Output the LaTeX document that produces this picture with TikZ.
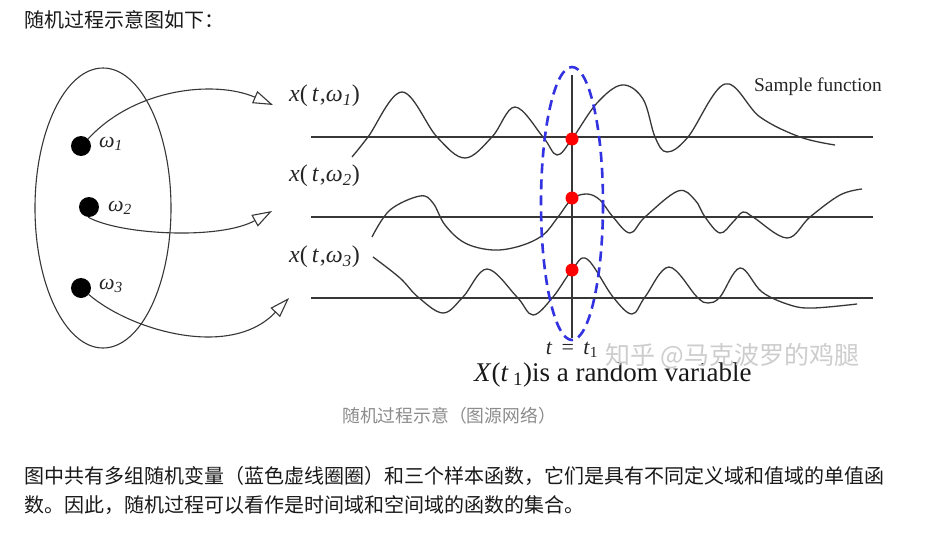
\documentclass[tikz,border=0pt]{standalone}
\usepackage{fontspec}
\setmainfont{Liberation Serif}
\newfontfamily\cjk{Noto Sans CJK SC}
\usetikzlibrary{arrows.meta}
\definecolor{inkgray}{RGB}{55,55,55}
\definecolor{dashblue}{RGB}{50,50,225}
\definecolor{capgray}{RGB}{140,140,140}
\definecolor{markgray}{RGB}{205,205,205}
\tikzset{
  axisline/.style={draw=inkgray, line width=1.4pt},
  wave/.style={draw=inkgray, line width=1.3pt},
  mapar/.style={draw=inkgray, line width=1.1pt, -{Triangle[open, length=20pt, width=13pt, line width=1.1pt]}},
  dotnode/.style={circle, fill=black, minimum size=20pt, inner sep=0pt},
  reddot/.style={circle, fill=red, minimum size=13pt, inner sep=0pt},
  funclab/.style={font=\fontsize{24}{24}\selectfont, inner sep=0pt, anchor=west, text=black!85},
  omegalab/.style={font=\fontsize{22}{22}\selectfont\itshape, inner sep=0pt, anchor=west, text=black!85},
  cjktext/.style={font=\cjk\fontsize{20}{20}\selectfont, inner sep=0pt, anchor=west, text=black!90},
}
\begin{document}
\begin{tikzpicture}[x=1pt,y=-1pt]
\useasboundingbox[fill=white] (0,0) rectangle (931,538);

% title and body text
\node[cjktext] (title) at (24,20) {随机过程示意图如下：};
\node[cjktext] (body1) at (24,476) {图中共有多组随机变量（蓝色虚线圈圈）和三个样本函数，它们是具有不同定义域和值域的单值函};
\node[cjktext] (body2) at (24,505) {数。因此，随机过程可以看作是时间域和空间域的函数的集合。};
\node[font=\cjk\fontsize{17.8}{17.8}\selectfont, text=capgray, inner sep=0pt] (caption) at (449,416) {随机过程示意（图源网络）};

% sample space
\draw[draw=inkgray, line width=1.1pt] (103,208) ellipse [x radius=68, y radius=140];
\node[dotnode] (w1) at (81,146) {};
\node[dotnode] (w2) at (89,207) {};
\node[dotnode] (w3) at (81,288) {};
\node[omegalab] (w1l) at (99,144) {ω\textsubscript{1}};
\node[omegalab] (w2l) at (108,208) {ω\textsubscript{2}};
\node[omegalab] (w3l) at (99,286) {ω\textsubscript{3}};

% mapping arrows
\coordinate (a1) at (273,105);
\coordinate (a2) at (272,211);
\coordinate (a3) at (289,298);
\draw[mapar] (w1.45) .. controls (135,88) and (215,80) .. (a1);
\draw[mapar] (w2.-95) .. controls (120,235) and (220,240) .. (a2);
\draw[mapar] (w3.-40) .. controls (130,330) and (230,360) .. (a3);

% function labels
\node[funclab] (f1) at (289,96) {\textit{x}(\,\textit{t}\kern1pt,\textit{ω}\textsubscript{\textit{1}})};
\node[funclab] (f2) at (289,176) {\textit{x}(\,\textit{t}\kern1pt,\textit{ω}\textsubscript{\textit{2}})};
\node[funclab] (f3) at (289,257) {\textit{x}(\,\textit{t}\kern1pt,\textit{ω}\textsubscript{\textit{3}})};
\node[font=\fontsize{19.4}{19.4}\selectfont, inner sep=0pt, text=black!85] (sf) at (818,87) {Sample function};

% time axes
\draw[axisline] (311,137) -- (873,137);
\draw[axisline] (311,217) -- (873,217);
\draw[axisline] (311,298) -- (873,298);
\draw[draw=inkgray, line width=1.2pt] (572,75) -- (572,338);

% sample functions
\draw[wave] plot[smooth, tension=0.6] coordinates {(352,157) (368,137) (402,92) (437,137) (465,158) (492,137) (515,107) (543,137) (557,155) (572,139) (597,103) (622,85) (643,99) (655,137) (667,152) (688,137) (725,84) (760,117) (800,137) (835,145)};
\draw[wave] plot[smooth, tension=0.6] coordinates {(372,237) (390,210) (420,196) (433,203) (445,225) (465,243) (493,250) (520,246) (543,235) (558,217) (572,199) (587,194) (600,200) (613,217) (630,233) (645,217) (678,191) (695,200) (705,217) (720,233) (733,222) (743,212) (753,217) (787,238) (810,217) (840,195) (862,189)};
\draw[wave] plot[smooth, tension=0.6] coordinates {(373,257) (400,278) (418,297) (443,313) (463,297) (487,269) (517,297) (533,315) (553,297) (572,270) (587,259) (613,297) (632,314) (645,297) (669,267) (697,297) (708,303) (720,297) (740,268) (762,292) (790,305) (813,308) (857,304)};

% random variable ellipse
\draw[draw=dashblue, line width=2.6pt, dash pattern=on 10pt off 6pt] (572,203.5) ellipse [x radius=31, y radius=136.5];
\node[reddot] (r1) at (572,139) {};
\node[reddot] (r2) at (572,198) {};
\node[reddot] (r3) at (572,270) {};

% bottom labels
\node[font=\fontsize{22}{22}\selectfont, inner sep=0pt, text=black!85] (teq) at (572,350) {\textit{t} \,=\, \textit{t}\textsubscript{1}};
\node[font=\fontsize{27}{27}\selectfont, inner sep=0pt, anchor=west, text=black!90] (xt) at (474,375) {\textit{X}(\textit{t}\,\textsubscript{1})is a random variable};
\node[font=\cjk\fontsize{25}{25}\selectfont, text=markgray, inner sep=0pt, anchor=west] (wm) at (605,356) {知乎 @马克波罗的鸡腿};
\end{tikzpicture}
\end{document}
